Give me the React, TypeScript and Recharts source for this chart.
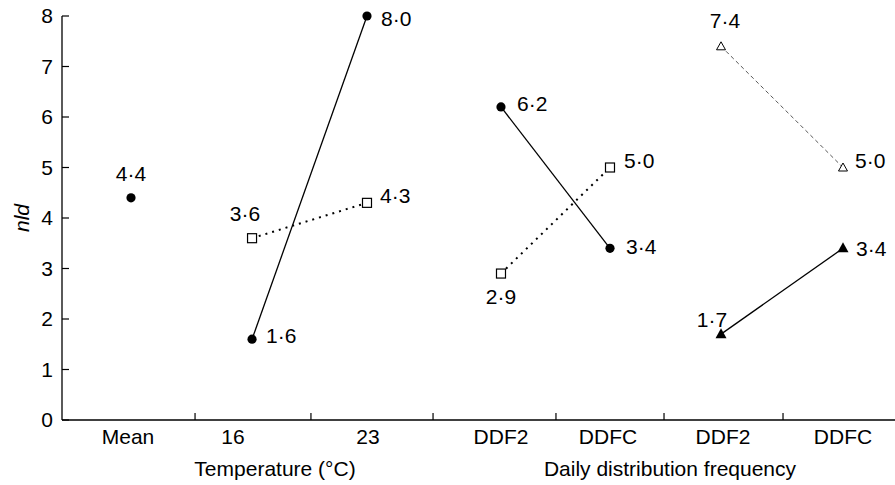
import React from 'react';
import { ScatterChart, Scatter, XAxis, YAxis, ReferenceLine } from 'recharts';

// ---- data ----
const categories = ['Mean', '16', '23', 'DDF2', 'DDFC', 'DDF2', 'DDFC'];
const categoryPos = [0.555, 1.437, 2.571, 3.689, 4.588, 5.555, 6.563];
const markerPos = [0.58, 1.597, 2.563, 3.689, 4.605, 5.538, 6.563];
const dividerPos = [1.118, 2.092, 3.118, 4.151, 5.059, 6.059];
const groupTitles = ['Temperature (°C)', 'Daily distribution frequency'];
const groupTitlePos = [1.79, 5.109];
const yTicks = [0, 1, 2, 3, 4, 5, 6, 7, 8];

const meanValue = [4.4];
const tempCircles = [1.6, 8.0];
const tempSquares = [3.6, 4.3];
const ddfCircles = [6.2, 3.4];
const ddfSquares = [2.9, 5.0];
const ddfOpenTriangles = [7.4, 5.0];
const ddfFilledTriangles = [1.7, 3.4];

const toPoints = (values: number[], cats: number[]) =>
  values.map((v, i) => ({ x: markerPos[cats[i]], y: v, i }));

// ---- styling ----
const FONT = 'Liberation Sans, Arial, Helvetica, sans-serif';
const FS = 21;
const fmt = (v: number) => v.toFixed(1).replace('.', '\u00B7');

type Kind = 'circle' | 'square' | 'openTri' | 'filledTri';

function makeShape(kind: Kind, offsets: [number, number, string][]) {
  return (props: any) => {
    const { cx, cy, payload } = props;
    if (cx == null || cy == null) return <g />;
    const idx = payload && payload.i != null ? payload.i : props.index ?? 0;
    const [dx, dy, anchor] = offsets[idx] || [14, 0, 'start'];
    let marker: React.ReactNode = null;
    if (kind === 'circle') marker = <circle cx={cx} cy={cy} r={4.6} fill="#000" />;
    if (kind === 'square')
      marker = <rect x={cx - 4.5} y={cy - 4.5} width={9} height={9} fill="#fff" stroke="#000" strokeWidth={1.2} />;
    if (kind === 'openTri')
      marker = (
        <polygon
          points={`${cx},${cy - 4.5} ${cx - 4.5},${cy + 3.5} ${cx + 4.5},${cy + 3.5}`}
          fill="#fff"
          stroke="#000"
          strokeWidth={1}
        />
      );
    if (kind === 'filledTri')
      marker = (
        <polygon points={`${cx},${cy - 6} ${cx - 5.5},${cy + 4} ${cx + 5.5},${cy + 4}`} fill="#000" />
      );
    return (
      <g>
        {marker}
        <text
          x={cx + dx}
          y={cy + dy}
          textAnchor={anchor}
          dominantBaseline="central"
          fontFamily={FONT}
          fontSize={FS}
          fill="#000"
        >
          {fmt(payload.y)}
        </text>
      </g>
    );
  };
}

const XTick = (props: any) => {
  const { x, y, payload } = props;
  const v = payload.value;
  const ti = groupTitlePos.indexOf(v);
  const label = ti >= 0 ? groupTitles[ti] : categories[categoryPos.indexOf(v)] ?? '';
  return (
    <text
      x={x}
      y={y + (ti >= 0 ? 32 : 0)}
      dy="0.71em"
      textAnchor="middle"
      fontFamily={FONT}
      fontSize={FS}
      fill="#000"
    >
      {label}
    </text>
  );
};

export default function App() {
  const meanPts = toPoints(meanValue, [0]);
  const tcPts = toPoints(tempCircles, [1, 2]);
  const tsPts = toPoints(tempSquares, [1, 2]);
  const dcPts = toPoints(ddfCircles, [3, 4]);
  const dsPts = toPoints(ddfSquares, [3, 4]);
  const otPts = toPoints(ddfOpenTriangles, [5, 6]);
  const ftPts = toPoints(ddfFilledTriangles, [5, 6]);

  const tickStyle = { fill: '#000', fontSize: FS, fontFamily: FONT };

  return (
    <div style={{ position: 'absolute', left: 0, top: 0, width: 895, height: 485, background: '#fff' }}>
      <ScatterChart width={895} height={485} margin={{ top: 16, right: 0, bottom: 0, left: 0 }}>
        <XAxis
          xAxisId="c"
          type="number"
          dataKey="x"
          domain={[0, 7]}
          ticks={[...categoryPos, ...groupTitlePos]}
          interval={0}
          tickLine={false}
          tickSize={0}
          tickMargin={9}
          axisLine={{ stroke: '#000', strokeWidth: 1.3 }}
          height={65}
          tick={<XTick />}
        />
        <YAxis
          type="number"
          dataKey="y"
          domain={[0, 8]}
          ticks={yTicks}
          interval={0}
          width={62}
          tickSize={-7}
          tickMargin={16}
          tickLine={{ stroke: '#000', strokeWidth: 1.2 }}
          axisLine={{ stroke: '#000', strokeWidth: 1.3 }}
          tick={tickStyle}
          label={{
            value: 'nld',
            angle: -90,
            position: 'insideLeft',
            offset: 22,
            style: { textAnchor: 'middle', fontStyle: 'italic', fontSize: FS, fill: '#000', fontFamily: FONT },
          }}
        />
        {dividerPos.map((d) => (
          <ReferenceLine
            key={d}
            xAxisId="c"
            segment={[
              { x: d, y: 0 },
              { x: d, y: 0.14 },
            ]}
            stroke="#000"
            strokeWidth={1.2}
          />
        ))}
        <Scatter
          xAxisId="c"
          data={meanPts}
          fill="#000"
          isAnimationActive={false}
          shape={makeShape('circle', [[0, -24, 'middle']])}
        />
        <Scatter
          xAxisId="c"
          data={tsPts}
          fill="#000"
          line={{ stroke: '#000', strokeWidth: 2, strokeDasharray: '2 5' }}
          isAnimationActive={false}
          shape={makeShape('square', [
            [-7, -25, 'middle'],
            [13, -7, 'start'],
          ])}
        />
        <Scatter
          xAxisId="c"
          data={tcPts}
          fill="#000"
          line={{ stroke: '#000', strokeWidth: 1.3 }}
          isAnimationActive={false}
          shape={makeShape('circle', [
            [14, -4, 'start'],
            [14, 2, 'start'],
          ])}
        />
        <Scatter
          xAxisId="c"
          data={dsPts}
          fill="#000"
          line={{ stroke: '#000', strokeWidth: 2, strokeDasharray: '2 5' }}
          isAnimationActive={false}
          shape={makeShape('square', [
            [0, 23, 'middle'],
            [14, -7, 'start'],
          ])}
        />
        <Scatter
          xAxisId="c"
          data={dcPts}
          fill="#000"
          line={{ stroke: '#000', strokeWidth: 1.3 }}
          isAnimationActive={false}
          shape={makeShape('circle', [
            [16, -3, 'start'],
            [16, -2, 'start'],
          ])}
        />
        <Scatter
          xAxisId="c"
          data={otPts}
          fill="#000"
          line={{ stroke: '#444', strokeWidth: 0.9, strokeDasharray: '4 3' }}
          isAnimationActive={false}
          shape={makeShape('openTri', [
            [4, -26, 'middle'],
            [12, -7, 'start'],
          ])}
        />
        <Scatter
          xAxisId="c"
          data={ftPts}
          fill="#000"
          line={{ stroke: '#000', strokeWidth: 1.3 }}
          isAnimationActive={false}
          shape={makeShape('filledTri', [
            [-9, -15, 'middle'],
            [13, 0, 'start'],
          ])}
        />
      </ScatterChart>
    </div>
  );
}
